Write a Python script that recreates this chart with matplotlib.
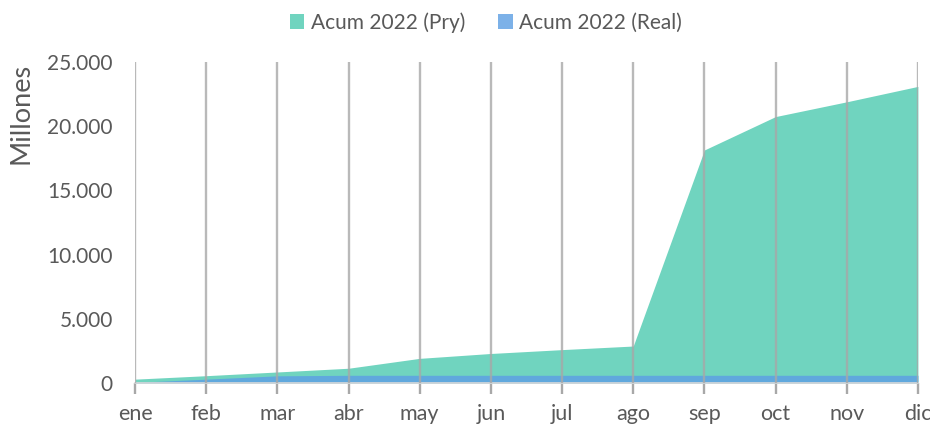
import matplotlib.pyplot as plt
from matplotlib.ticker import FuncFormatter
from matplotlib.patches import Patch

months = ["ene", "feb", "mar", "abr", "may", "jun", "jul", "ago", "sep", "oct", "nov", "dic"]
acum_pry = [300, 570, 860, 1150, 1920, 2300, 2600, 2880, 18150, 20750, 21900, 23100]
acum_real = [50, 300, 560, 600, 600, 600, 600, 600, 600, 600, 600, 600]

green = "#70d4bf"
blue = "#60a8dd"
text_color = "#595959"
grid_color = "#a8a8a8"

plt.rcParams["font.family"] = ["Lato", "DejaVu Sans"]

fig = plt.figure(figsize=(9.3, 4.25), dpi=100)
ax = fig.add_axes([0.1452, 0.0988, 0.8418, 0.7553])

x = list(range(len(months)))
ax.fill_between(x, acum_pry, color=green, linewidth=0, zorder=1)
ax.fill_between(x, acum_real, color=blue, linewidth=0, zorder=2)

for xi in x:
    ax.axvline(xi, color=grid_color, linewidth=1.7, alpha=0.8, zorder=3)

ax.set_xlim(0, 11)
ax.set_ylim(0, 25000)
ax.set_yticks(range(0, 25001, 5000))
ax.yaxis.set_major_formatter(FuncFormatter(lambda v, p: f"{int(v):,}".replace(",", ".")))
ax.set_xticks(x)
ax.set_xticklabels(months)

for s in ["top", "right", "left"]:
    ax.spines[s].set_visible(False)
ax.spines["bottom"].set_color("#d9d9d9")
ax.spines["bottom"].set_linewidth(1.2)

ax.tick_params(axis="x", length=8, width=1.7, color=grid_color, labelsize=15.5,
               labelcolor=text_color, pad=7)
ax.tick_params(axis="y", length=0, labelsize=15, labelcolor=text_color, pad=16)

# label sits near the top of the axis, like the original
ax.set_ylabel("Millones", fontsize=19.5, color=text_color)
ax.yaxis.set_label_coords(-0.13, 0.84)

handles = [Patch(facecolor=green, label="Acum 2022 (Pry)"),
           Patch(facecolor="#7cb1e8", label="Acum 2022 (Real)")]
fig.legend(handles=handles, loc="upper center", bbox_to_anchor=(0.5226, 1.015), ncol=2,
           frameon=False, fontsize=15, labelcolor=text_color, handlelength=0.7,
           handleheight=0.7, handletextpad=0.3, columnspacing=1.6)

fig.savefig("out.png", dpi=100)
